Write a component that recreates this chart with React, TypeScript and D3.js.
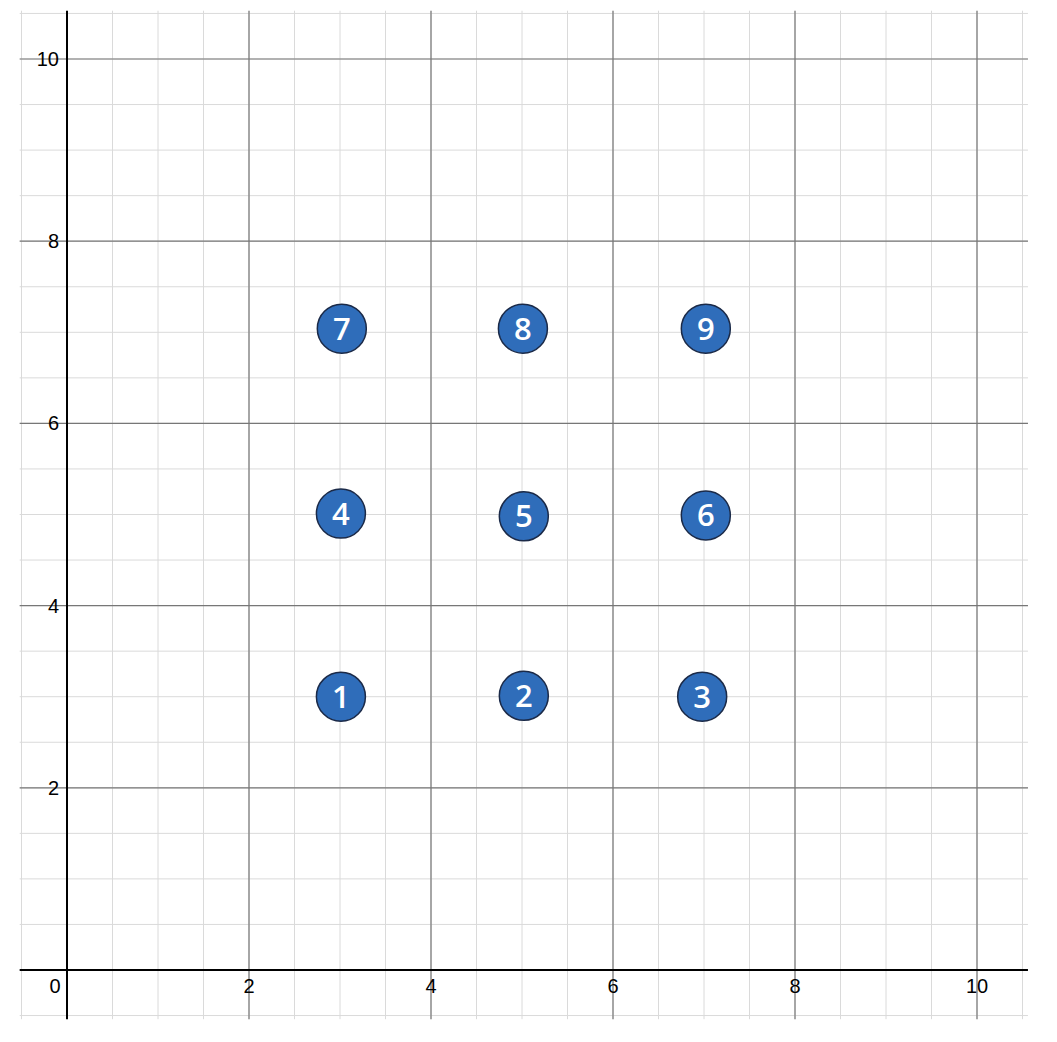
import * as d3 from "d3";

// points (data units)
const labels = ["1", "2", "3", "4", "5", "6", "7", "8", "9"];
const xs = [3.01, 5.02, 6.98, 3.01, 5.02, 7.02, 3.02, 5.01, 7.02];
const ys = [3.0, 3.01, 3.0, 5.01, 4.98, 4.99, 7.04, 7.04, 7.04];

const xTicks = [0, 2, 4, 6, 8, 10];
const yTicks = [2, 4, 6, 8, 10];
const xExtent = [-0.52, 10.56];
const yExtent = [-0.54, 10.53];

const W = 1057, H = 1042;

export default function App() {
  const x = d3.scaleLinear().domain([0, 10]).range([67, 977]);
  const y = d3.scaleLinear().domain([0, 10]).range([970, 59]);
  const minor = d3.range(-0.5, 10.51, 0.5);
  const major = [2, 4, 6, 8, 10];

  const pts = labels.map((l, i) => ({ l, x: xs[i], y: ys[i] }));

  return (
    <svg width={W} height={H} style={{ position: "absolute", left: 0, top: 0, background: "#fff" }}>
      <g>
        {minor.map((v) => (
          <line key={"vx" + v} x1={x(v)} x2={x(v)} y1={y(yExtent[1])} y2={y(yExtent[0])} stroke="#dadada" strokeWidth={1} />
        ))}
        {minor.map((v) => (
          <line key={"hy" + v} y1={y(v)} y2={y(v)} x1={x(xExtent[0])} x2={x(xExtent[1])} stroke="#dadada" strokeWidth={1} />
        ))}
        {major.map((v) => (
          <line key={"mx" + v} x1={x(v)} x2={x(v)} y1={y(yExtent[1])} y2={y(yExtent[0])} stroke="#777" strokeWidth={1.2} />
        ))}
        {major.map((v) => (
          <line key={"my" + v} y1={y(v)} y2={y(v)} x1={x(xExtent[0])} x2={x(xExtent[1])} stroke="#777" strokeWidth={1.2} />
        ))}
      </g>
      <line x1={x(0)} x2={x(0)} y1={y(yExtent[1])} y2={y(yExtent[0])} stroke="#000" strokeWidth={2} />
      <line y1={y(0)} y2={y(0)} x1={x(xExtent[0])} x2={x(xExtent[1])} stroke="#000" strokeWidth={2} />
      <g fontFamily="'Liberation Sans', Arial, sans-serif" fontSize={20} fill="#000">
        {xTicks.map((t) => (
          <text key={"xt" + t} x={t === 0 ? x(0) - 12 : x(t)} y={y(0) + 23} textAnchor="middle">{t}</text>
        ))}
        {yTicks.map((t) => (
          <text key={"yt" + t} x={x(0) - 8} y={y(t) + 7} textAnchor="end">{t}</text>
        ))}
      </g>
      <g>
        {pts.map((p) => (
          <g key={p.l} transform={`translate(${x(p.x)},${y(p.y)})`}>
            <circle r={24.5} fill="#2f6dba" stroke="#1b2a48" strokeWidth={1.5} />
            <text y={11} textAnchor="middle" fill="#fff" fontFamily="'Open Sans', sans-serif" fontWeight={600} fontSize={31}>{p.l}</text>
          </g>
        ))}
      </g>
    </svg>
  );
}
